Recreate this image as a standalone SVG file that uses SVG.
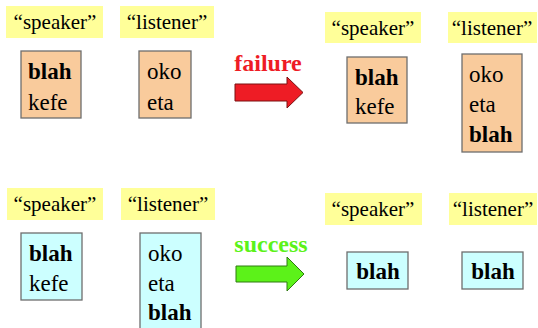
<svg xmlns="http://www.w3.org/2000/svg" width="538" height="328" viewBox="0 0 538 328">
<style>
text{font-family:"Liberation Serif","Times New Roman",Tinos,"DejaVu Serif","Noto Serif",serif}
.lbl{fill:#FFFF99}
.lt{font-size:21px;fill:#000}
.bo{fill:#F9CB9C;stroke:#6E6E6E;stroke-width:1.3}
.bc{fill:#CCFFFF;stroke:#6E6E6E;stroke-width:1.3}
.t{font-size:23px;fill:#000}
.b{font-weight:bold}
</style>
<rect width="538" height="328" fill="#fff"/>
<g id="tl-speaker-label"><rect class="lbl" x="6" y="6" width="97" height="32"/><text class="lt" x="55" y="29" text-anchor="middle">“speaker”</text></g>
<g id="tl-listener-label"><rect class="lbl" x="120" y="6" width="94" height="32"/><text class="lt" x="167" y="29" text-anchor="middle">“listener”</text></g>
<g id="tl-speaker"><rect class="bo" x="21" y="51" width="60" height="67"/><text class="t b" x="28" y="79">blah</text><text class="t" x="28" y="110">kefe</text></g>
<g id="tl-listener"><rect class="bo" x="139" y="51" width="52" height="67"/><text class="t" x="147" y="79">oko</text><text class="t" x="147" y="110">eta</text></g>
<g id="tr-speaker-label"><rect class="lbl" x="325" y="12" width="96" height="31"/><text class="lt" x="373" y="35" text-anchor="middle">“speaker”</text></g>
<g id="tr-listener-label"><rect class="lbl" x="448" y="12" width="89" height="31"/><text class="lt" x="492" y="35" text-anchor="middle">“listener”</text></g>
<g id="tr-speaker"><rect class="bo" x="347" y="57" width="60" height="66"/><text class="t b" x="355" y="85">blah</text><text class="t" x="355" y="114">kefe</text></g>
<g id="tr-listener"><rect class="bo" x="462" y="54" width="60" height="98"/><text class="t" x="469" y="82">oko</text><text class="t" x="469" y="112">eta</text><text class="t b" x="469" y="142">blah</text></g>
<g id="bl-speaker-label"><rect class="lbl" x="7" y="188" width="96" height="32"/><text class="lt" x="55" y="211" text-anchor="middle">“speaker”</text></g>
<g id="bl-listener-label"><rect class="lbl" x="121" y="188" width="94" height="32"/><text class="lt" x="168" y="211" text-anchor="middle">“listener”</text></g>
<g id="bl-speaker"><rect class="bc" x="21" y="233" width="61" height="67"/><text class="t b" x="29" y="261">blah</text><text class="t" x="29" y="291">kefe</text></g>
<g id="bl-listener"><rect class="bc" x="140" y="233" width="61" height="100"/><text class="t" x="148" y="261">oko</text><text class="t" x="148" y="291">eta</text><text class="t b" x="148" y="320">blah</text></g>
<g id="br-speaker-label"><rect class="lbl" x="325" y="193" width="97" height="32"/><text class="lt" x="373" y="216" text-anchor="middle">“speaker”</text></g>
<g id="br-listener-label"><rect class="lbl" x="449" y="193" width="88" height="32"/><text class="lt" x="493" y="216" text-anchor="middle">“listener”</text></g>
<g id="br-speaker"><rect class="bc" x="347" y="252" width="61" height="37"/><text class="t b" x="378" y="279" text-anchor="middle">blah</text></g>
<g id="br-listener"><rect class="bc" x="462" y="252" width="61" height="37"/><text class="t b" x="493" y="279" text-anchor="middle">blah</text></g>
<g id="connectors">
<g id="failure-arrow"><text x="268" y="71" text-anchor="middle" font-weight="bold" font-size="24" fill="#EE1C25">failure</text><path d="M235 84H287V77L303 92.5L287 108V101H235Z" fill="#EE1C25" stroke="#7A1010" stroke-width="1"/></g>
<g id="success-arrow"><text x="271" y="252" text-anchor="middle" font-weight="bold" font-size="24" fill="#5CF219">success</text><path d="M236 266H287V257L304 274L287 291V282H236Z" fill="#5CF219" stroke="#2E7A10" stroke-width="1"/></g>
</g>
</svg>
